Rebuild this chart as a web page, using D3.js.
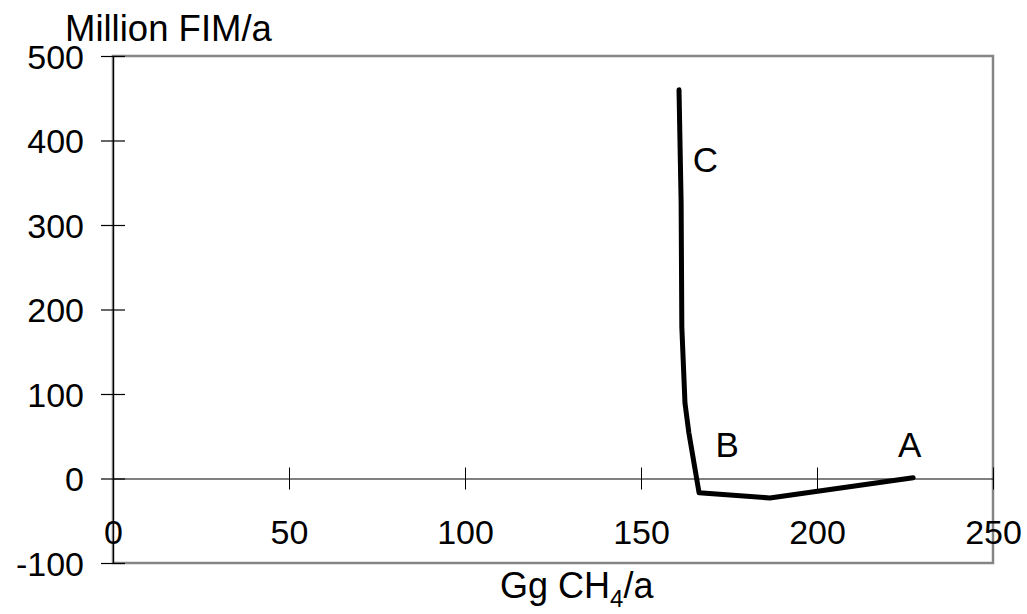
<!DOCTYPE html>
<html>
<head>
<meta charset="utf-8">
<script src="https://cdn.jsdelivr.net/npm/d3@7"></script>
<style>
  body { margin: 0; background: #fff; }
  text { font-family: "Liberation Sans", Arial, sans-serif; fill: #000; }
</style>
</head>
<body>
<div id="chart"></div>
<script>
// emissions (Gg CH4/a) and cost (Million FIM/a) along the curve
const emissions = [160.8, 161.4, 161.6, 162.5, 163.6, 166.5, 186.6, 227.3];
const costs = [460, 326, 179, 89, 54, -17, -23, 1];

const xTicks = [0, 50, 100, 150, 200, 250];
const yTicks = [-100, 0, 100, 200, 300, 400, 500];

// point labels
const pointLabels = [
  { name: "C", x: 168.3, y: 363 },
  { name: "B", x: 174.5, y: 25 },
  { name: "A", x: 226.3, y: 25 }
];

const width = 1027;
const height = 614;
const margin = { top: 56, right: 34, bottom: 51, left: 113 };

const svg = d3.select("#chart")
  .append("svg")
  .attr("width", width)
  .attr("height", height);

const x = d3.scaleLinear()
  .domain([0, 250])
  .range([margin.left, width - margin.right]);

const y = d3.scaleLinear()
  .domain([-100, 500])
  .range([height - margin.bottom, margin.top]);

// plot frame
svg.append("rect")
  .attr("x", x(0))
  .attr("y", y(500))
  .attr("width", x(250) - x(0))
  .attr("height", y(-100) - y(500))
  .attr("fill", "none")
  .attr("stroke", "#858585")
  .attr("stroke-width", 2.5);

// y axis
const yAxis = svg.append("g")
  .attr("transform", `translate(${x(0)},0)`)
  .call(d3.axisLeft(y).tickValues(yTicks).tickFormat(d => String(d)).tickSizeOuter(0).tickSizeInner(12));
yAxis.select(".domain").attr("stroke", "#000").attr("stroke-width", 1.2);
yAxis.selectAll(".tick line").attr("x1", 12).attr("x2", -12).attr("stroke-width", 1.2);
yAxis.selectAll(".tick text")
  .attr("x", -29)
  .attr("dy", "0.36em")
  .style("font-size", "34px")
  .style("font-family", "Liberation Sans, Arial, sans-serif");

// x axis at y = 0
const xAxis = svg.append("g")
  .attr("transform", `translate(0,${y(0)})`)
  .call(d3.axisBottom(x).tickValues(xTicks).tickFormat(d => String(d)).tickSizeOuter(0).tickSizeInner(11));
xAxis.select(".domain").attr("stroke", "#000").attr("stroke-width", 1);
xAxis.selectAll(".tick line").attr("y1", -11).attr("y2", 11).attr("stroke-width", 1);
xAxis.selectAll(".tick text")
  .attr("y", 65.5)
  .attr("dy", 0)
  .style("font-size", "34px")
  .style("font-family", "Liberation Sans, Arial, sans-serif");

// axis titles
svg.append("text")
  .attr("x", 65)
  .attr("y", 41)
  .style("font-size", "36.5px")
  .text("Million FIM/a");

const xTitle = svg.append("text")
  .attr("x", 500)
  .attr("y", 598)
  .style("font-size", "36px");
xTitle.append("tspan").text("Gg CH");
xTitle.append("tspan").attr("dy", 9).style("font-size", "24px").text("4");
xTitle.append("tspan").attr("dy", -9).text("/a");

// curve
const line = d3.line()
  .x((d, i) => x(emissions[i]))
  .y(d => y(d));

svg.append("path")
  .datum(costs)
  .attr("d", line)
  .attr("fill", "none")
  .attr("stroke", "#000")
  .attr("stroke-width", 5)
  .attr("stroke-linejoin", "round")
  .attr("stroke-linecap", "round");

// A, B, C labels
svg.selectAll(".point-label")
  .data(pointLabels)
  .enter()
  .append("text")
  .attr("class", "point-label")
  .attr("x", d => x(d.x))
  .attr("y", d => y(d.y))
  .attr("text-anchor", "middle")
  .style("font-size", "35px")
  .text(d => d.name);
</script>
</body>
</html>
